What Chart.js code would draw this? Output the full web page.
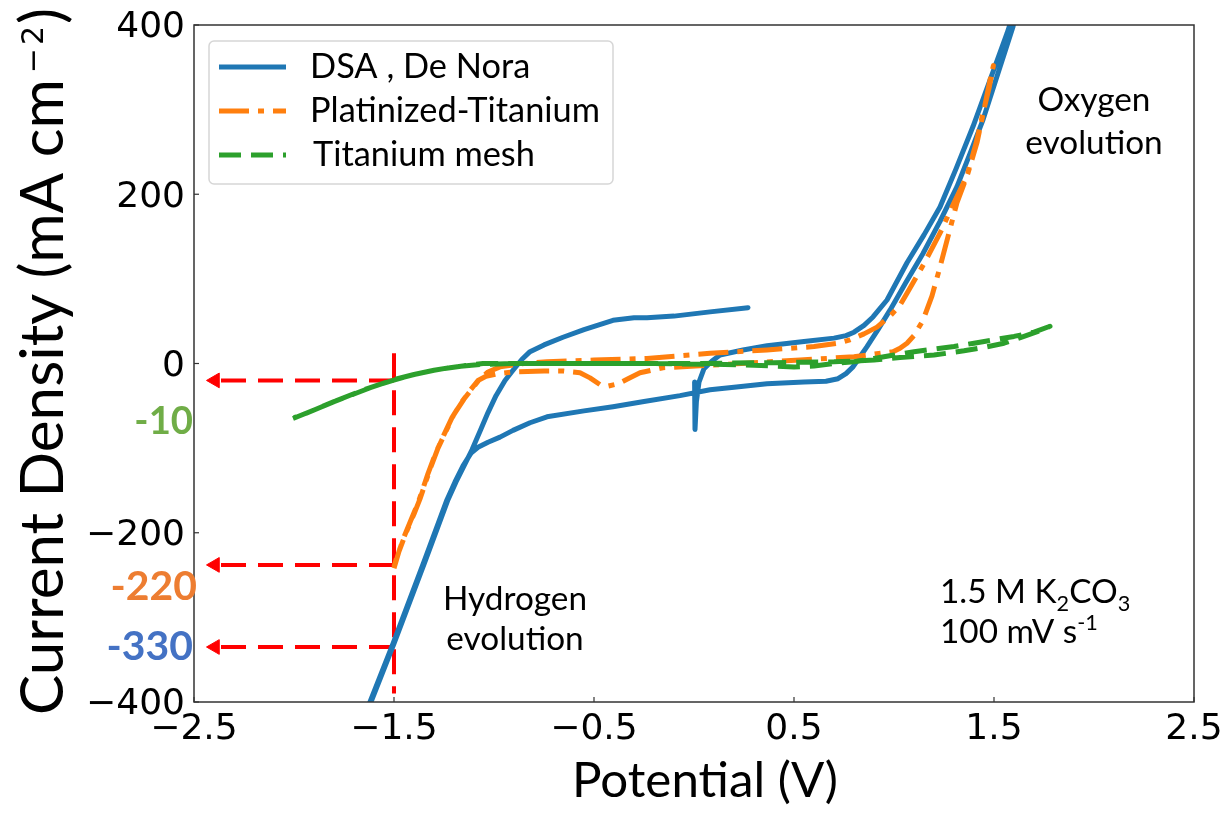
<!DOCTYPE html>
<html><head><meta charset="utf-8">
<script src="https://cdn.jsdelivr.net/npm/chart.js@4/dist/chart.umd.min.js"></script>
<style>html,body{margin:0;padding:0;background:#fff;overflow:hidden}</style>
</head><body>
<canvas id="c" width="1228" height="815" style="display:block;width:1228px;height:815px"></canvas>
<script>
// ---------- data ----------
const xTicks = [-2.5, -1.5, -0.5, 0.5, 1.5, 2.5];
const yTicks = [-400, -200, 0, 200, 400];
const seriesNames = ['DSA , De Nora', 'Platinized-Titanium', 'Titanium mesh'];

const dsaV = [0.003,0.005,0.012,0.025,0.05,0.09,0.13,0.245,0.365,0.55,0.7,0.76,0.8,0.85,0.895,0.965,1.065,1.15,1.23,1.31,1.395,1.48,1.565,1.6,
  1.61,1.595,1.52,1.445,1.38,1.315,1.23,1.145,1.06,0.98,0.92,0.865,0.83,0.795,0.76,0.72,0.66,0.55,0.365,0.2,0.08,-0.07,-0.25,-0.405,-0.55,-0.735,-0.82,-0.905,-0.97,-1.03,-1.08,-1.115,
  -1.155,-1.195,-1.235,-1.35,-1.505,-1.62,-1.66,
  -1.655,-1.615,-1.5,-1.345,-1.23,-1.19,-1.15,-1.11,-1.07,-1.03,-0.99,-0.945,-0.905,-0.86,-0.82,-0.75,-0.655,-0.55,-0.405,-0.3,-0.235,-0.1,0.08,0.27];
const dsaJ = [-22,-78,-45,-22,-6,3,10,16,21,26,30,33,37,45,55,75,119,152,185,230,280,335,390,415,
  415,398,343,288,248,209,168,130,96,63,40,20,8,-4,-12,-18,-21,-22,-24,-28,-31,-38,-45,-51,-56,-63,-70,-79,-87,-93,-99,-106,
  -121,-140,-161,-234,-331,-400,-425,
  -425,-400,-331,-234,-161,-140,-121,-102,-80,-58,-38,-20,-8,5,14,22,31,40,51,54,54,56,61,66];

const ptV = [-1.5,-1.475,-1.44,-1.4,-1.37,-1.32,-1.28,-1.24,-1.2,-1.15,-1.11,-1.07,-1.03,-0.97,-0.85,-0.735,-0.5,-0.235,0.08,0.365,0.6,0.72,0.78,0.85,0.915,0.98,1.03,1.065,1.15,1.23,1.3,1.365,1.41,1.445,1.475,1.497,
  1.49,1.48,1.45,1.415,1.37,1.315,1.27,1.23,1.19,1.145,1.1,1.065,1.03,0.995,0.8,0.53,0.3,0.08,-0.155,-0.27,-0.33,-0.38,-0.435,-0.47,-0.52,-0.57,-0.65,-0.75,-0.905,-0.98,-1.04,-1.08,-1.12,-1.16,-1.21,-1.25,-1.29,-1.33,-1.38,-1.41,-1.45,-1.49,-1.5];
const ptJ = [-242,-222,-200,-178,-160,-125,-100,-80,-60,-42,-30,-18,-10,-4,0,2,4,6,12,16,20,24,28,35,43,56,69,83,118,154,190,222,260,296,325,352,
  345,335,300,261,225,190,150,114,80,51,33,24,18,14,8,4,1,-2,-5,-11,-18,-24,-27,-25,-17,-11,-9,-9,-10,-12,-15,-20,-32,-45,-64,-84,-105,-130,-165,-182,-205,-232,-240];

const tiV = [-2.005,-1.9,-1.8,-1.7,-1.6,-1.505,-1.4,-1.3,-1.22,-1.13,-1.055,-0.8,-0.4,0,0.4,0.7,0.9,1.03,1.2,1.35,1.45,1.55,1.65,1.72,1.78,
  1.7,1.6,1.5,1.4,1.3,1.2,1.1,1.0,0.9,0.8,0.7,0.6,0.5,0.4,0.3,0.1,-0.2,-0.6,-0.9,-1.06,-1.2,-1.3,-1.4,-1.5,-1.65,-1.8,-1.95,-2.0];
const tiJ = [-65,-55,-45,-36,-27,-20,-13,-8,-5,-2,0,0,0,0,1,2,4,7,10,15,19,24,32,38,44,
  37,32,28,24,20,17,14,10,6,2,0,-3,-4,-3,-2,-1,0,0,0,-1,-4,-8,-13,-19,-31,-45,-60,-64];

const markerV = -1.5;                 // red vertical guide
const markerVJ = [12, -390];
const arrowLevels = [-20, -238, -335];  // red arrows
const arrowTipV = -2.395;
const arrowLabels = ['-10', '-220', '-330'];
const arrowLabelColors = ['#70AD47', '#ED7D31', '#4472C4'];

// ---------- helpers ----------
const pts = (xs, ys) => xs.map((x, i) => ({x: x, y: ys[i]}));
const minus = v => String(v).replace('-', '\u2212');
const colors = ['#1f77b4', '#ff7f0e', '#2ca02c'];
const dashes = [[], [30, 9, 6, 9], [22, 10]];
function fit(ctx, text, font, target) {
  ctx.font = '100px ' + font;
  return 100 * target / ctx.measureText(text).width;
}

const datasets = [
  {label: seriesNames[0], data: pts(dsaV, dsaJ), borderColor: colors[0], borderWidth: 5, borderDash: dashes[0], borderCapStyle: 'round', borderJoinStyle: 'round', order: 2},
  {label: seriesNames[1], data: pts(ptV, ptJ), borderColor: colors[1], borderWidth: 5, borderDash: dashes[1], borderCapStyle: 'butt', borderJoinStyle: 'round', order: 1},
  {label: seriesNames[2], data: pts(tiV, tiJ), borderColor: colors[2], borderWidth: 5, borderDash: dashes[2], borderCapStyle: 'butt', borderJoinStyle: 'round', order: 0},
  {label: 'guide', data: markerVJ.map(j => ({x: markerV, y: j})), borderColor: '#ff0000', borderWidth: 4, borderDash: [25, 12], order: 3}
];
arrowLevels.forEach(l => datasets.push({
  label: 'arrow', data: [{x: markerV, y: l}, {x: arrowTipV, y: l}],
  borderColor: '#ff0000', borderWidth: 4, borderDash: [25, 12], order: 3,
  pointRadius: [0, 8.5], pointStyle: 'triangle', rotation: 270,
  pointBackgroundColor: '#ff0000', pointBorderColor: '#ff0000', pointBorderWidth: 1
}));
datasets.forEach(d => {
  d.showLine = true; d.tension = 0; d.clip = 0; d.fill = false;
  if (d.pointRadius === undefined) d.pointRadius = 0;
  d.pointHoverRadius = 0;
});

const decor = {
  id: 'decor',
  afterDraw(chart) {
    const ctx = chart.ctx, a = chart.chartArea, xs = chart.scales.x, ys = chart.scales.y;
    ctx.save();
    // frame
    ctx.strokeStyle = '#333'; ctx.lineWidth = 1.5; ctx.setLineDash([]);
    ctx.strokeRect(a.left, a.top, a.right - a.left, a.bottom - a.top);
    // inward ticks
    ctx.lineWidth = 1.2;
    xs.ticks.forEach(t => { const p = xs.getPixelForValue(t.value); ctx.beginPath(); ctx.moveTo(p, a.bottom); ctx.lineTo(p, a.bottom - 5); ctx.stroke(); });
    ys.ticks.forEach(t => { const p = ys.getPixelForValue(t.value); ctx.beginPath(); ctx.moveTo(a.left, p); ctx.lineTo(a.left + 5, p); ctx.stroke(); });

    // legend
    const lx = 209, ly = 41, lw = 404, lh = 143;
    ctx.beginPath(); ctx.roundRect(lx, ly, lw, lh, 5);
    ctx.fillStyle = 'rgba(255,255,255,0.85)'; ctx.fill();
    ctx.strokeStyle = '#d6d6d6'; ctx.lineWidth = 1.5; ctx.stroke();
    const fLeg = fit(ctx, seriesNames[1], 'Lato', 290);
    const rows = [67, 111, 155], base = [78, 122, 166], tx = [310, 310, 313];
    seriesNames.forEach((n, i) => {
      ctx.strokeStyle = colors[i]; ctx.lineWidth = 5; ctx.lineCap = 'butt'; ctx.setLineDash(dashes[i]);
      ctx.beginPath(); ctx.moveTo(219, rows[i]); ctx.lineTo(286, rows[i]); ctx.stroke();
      ctx.setLineDash([]);
      ctx.fillStyle = '#000'; ctx.font = fLeg + 'px Lato'; ctx.textAlign = 'left'; ctx.textBaseline = 'alphabetic';
      ctx.fillText(n, tx[i], base[i]);
    });

    // annotations
    const fA = fit(ctx, 'Hydrogen', 'Lato', 144);
    ctx.fillStyle = '#000'; ctx.font = fA + 'px Lato'; ctx.textAlign = 'center';
    ctx.fillText('Oxygen', 1094, 111);
    ctx.fillText('evolution', 1094, 154);
    ctx.fillText('Hydrogen', 515, 610);
    ctx.fillText('evolution', 515, 650);
    // conditions
    ctx.textAlign = 'left';
    const fC = fA * 1.0, fs = fC * 0.65;
    let x = 940;
    const seg = (t, f, dy) => { ctx.font = f + 'px Lato'; ctx.fillText(t, x, dy); x += ctx.measureText(t).width; };
    seg('1.5 M K', fC, 603); seg('2', fs, 611); seg('CO', fC, 603); seg('3', fs, 611);
    x = 940;
    seg('100 mV s', fC, 643); seg('-1', fs, 630);

    // coloured values
    ctx.textAlign = 'right';
    const lbY = [434, 600, 660], lbX = [193, 197, 193], lbW = [51, 75, 75];
    arrowLabels.forEach((t, i) => {
      const f = fit(ctx, t, 'bold Lato', lbW[i]);
      ctx.font = 'bold ' + f + 'px Lato';
      ctx.fillStyle = arrowLabelColors[i]; ctx.fillText(t, lbX[i], lbY[i]);
    });

    // axis titles
    ctx.fillStyle = '#000'; ctx.textAlign = 'center';
    const fX = fit(ctx, 'Potential (V)', 'Lato', 266);
    ctx.font = fX + 'px Lato';
    ctx.fillText('Potential (V)', 705, 797);

    ctx.translate(63, 715); ctx.rotate(-Math.PI / 2);
    ctx.textAlign = 'left';
    const main = 'Current Density (mA cm';
    const fY = fit(ctx, main, 'Lato', 636);
    ctx.font = fY + 'px Lato';
    ctx.fillText(main, 0, 0);
    let p = ctx.measureText(main).width + 6;
    ctx.font = '30px "DejaVu Sans"';
    ctx.fillText('\u2212', p, -20); p += ctx.measureText('\u2212').width + 3;
    ctx.fillText('2', p, -20); p += ctx.measureText('2').width + 2;
    ctx.font = fY + 'px Lato';
    ctx.fillText(')', p, 0);
    ctx.restore();
  }
};

new Chart(document.getElementById('c'), {
  type: 'scatter',
  data: {datasets: datasets},
  options: {
    responsive: false, animation: false, devicePixelRatio: 1,
    layout: {padding: {left: 0, right: 34, top: 25, bottom: 0}},
    plugins: {legend: {display: false}, tooltip: {enabled: false}},
    events: [],
    scales: {
      x: {
        type: 'linear', min: -2.5, max: 2.5,
        afterBuildTicks: s => { s.ticks = xTicks.map(v => ({value: v})); },
        afterFit: s => { s.height = 113; s.paddingLeft = 0; s.paddingRight = 0; },
        grid: {display: false, drawTicks: false}, border: {display: false},
        ticks: {font: {family: 'DejaVu Sans', size: 36}, color: '#000', padding: 6, maxRotation: 0, autoSkip: false, callback: v => minus(v)}
      },
      y: {
        type: 'linear', min: -400, max: 400,
        afterBuildTicks: s => { s.ticks = yTicks.map(v => ({value: v})); },
        afterFit: s => { s.width = 194; s.paddingTop = 0; s.paddingBottom = 0; },
        grid: {display: false, drawTicks: false}, border: {display: false},
        ticks: {font: {family: 'DejaVu Sans', size: 36}, color: '#000', padding: 9, labelOffset: 3, autoSkip: false, callback: v => minus(v)}
      }
    }
  },
  plugins: [decor]
});
</script>
</body></html>
